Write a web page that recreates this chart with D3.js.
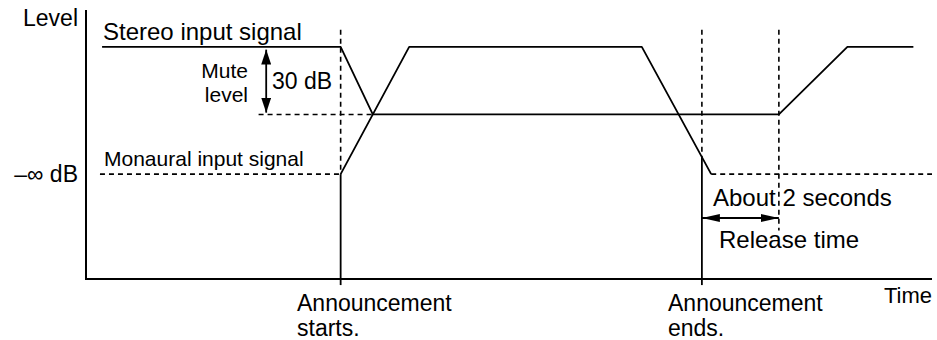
<!DOCTYPE html>
<html><head><meta charset="utf-8">
<script src="https://cdn.jsdelivr.net/npm/d3@7"></script>
<style>
html,body{margin:0;padding:0;background:#fff;}
svg text{font-family:"Liberation Sans",Arial,Helvetica,sans-serif;fill:#000;}
</style></head>
<body><svg id="c" width="937" height="340"></svg>
<script>
// ---- data (time in arbitrary units 0..100, level in pseudo dB) ----
const stereoLevel = 0, muteLevel = -30, floorLevel = -56.5;
const stereoTimes = [1.9, 30.1, 33.9, 81.9, 90.0, 97.8];
const stereoLevels = [stereoLevel, stereoLevel, muteLevel, muteLevel, stereoLevel, stereoLevel];
const monoTimes = [30.1, 38.2, 65.7, 73.9];
const monoLevels = [floorLevel, stereoLevel, stereoLevel, floorLevel];
const monoDashBefore = [[1.65, floorLevel], [30.1, floorLevel]];
const monoDashAfter = [[73.9, floorLevel], [100, floorLevel]];
const muteDash = [[20.4, muteLevel], [33.9, muteLevel]];
const announceStart = 30.1, announceEnd = 72.8, releaseEnd = 81.9;
const yLabels = ["Level", "\u2013\u221e dB"];

const svg = d3.select("#c");
const x = d3.scaleLinear().domain([0, 100]).range([86, 932]);
const y = d3.scaleLinear().domain([-103.1, 16.4]).range([279, 10]);
const line = d3.line().x(d => x(d[0])).y(d => y(d[1]));

function txt(lines, px, py, size, anchor, lh) {
  const t = svg.append("text").attr("x", px).attr("y", py)
    .attr("font-size", size).attr("text-anchor", anchor || "start");
  [].concat(lines).forEach((s, i) => {
    t.append("tspan").attr("x", px).attr("dy", i === 0 ? 0 : lh).text(s);
  });
}

// markers
const defs = svg.append("defs");
defs.append("marker").attr("id", "hA").attr("markerUnits", "userSpaceOnUse")
  .attr("viewBox", "0 0 18 10").attr("refX", 18).attr("refY", 5)
  .attr("markerWidth", 18).attr("markerHeight", 10).attr("orient", "auto-start-reverse")
  .append("path").attr("d", "M0,1 L18,5 L0,9 Z").attr("fill", "#000");
defs.append("marker").attr("id", "vA").attr("markerUnits", "userSpaceOnUse")
  .attr("viewBox", "0 0 15 10").attr("refX", 15).attr("refY", 5)
  .attr("markerWidth", 15).attr("markerHeight", 10).attr("orient", "auto-start-reverse")
  .append("path").attr("d", "M0,0 L15,5 L0,10 Z").attr("fill", "#000");

// axes
svg.append("path").attr("d", `M${x(0)},${y(16.4)} V${y(-103.1)} H${x(100)}`)
  .attr("fill", "none").attr("stroke", "#000").attr("stroke-width", 2);

const dash = "5,4";
const vTop = 7.6;
// announcement start: dashed to floor, solid below
svg.append("path").attr("d", line([[announceStart, vTop], [announceStart, floorLevel]]))
  .attr("stroke", "#000").attr("stroke-width", 1.6).attr("stroke-dasharray", dash).attr("fill", "none");
svg.append("path").attr("d", line([[announceStart, floorLevel], [announceStart, -105.8]]))
  .attr("stroke", "#000").attr("stroke-width", 1.8).attr("fill", "none");
// announcement end: dashed down to crossing with falling line, solid below
const crossLevel = stereoLevel + (floorLevel - stereoLevel) * (announceEnd - monoTimes[2]) / (monoTimes[3] - monoTimes[2]);
svg.append("path").attr("d", line([[announceEnd, vTop], [announceEnd, crossLevel]]))
  .attr("stroke", "#000").attr("stroke-width", 1.6).attr("stroke-dasharray", dash).attr("fill", "none");
svg.append("path").attr("d", line([[announceEnd, crossLevel], [announceEnd, -105.8]]))
  .attr("stroke", "#000").attr("stroke-width", 1.8).attr("fill", "none");
// release end: dashed
svg.append("path").attr("d", line([[releaseEnd, vTop], [releaseEnd, -81.5]]))
  .attr("stroke", "#000").attr("stroke-width", 1.6).attr("stroke-dasharray", dash).attr("fill", "none");

// dashed level lines
[monoDashBefore, monoDashAfter, muteDash].forEach(d => {
  svg.append("path").attr("d", line(d)).attr("stroke", "#000").attr("stroke-width", 1.6)
    .attr("stroke-dasharray", dash).attr("fill", "none");
});

// signal lines
svg.append("path").attr("d", line(d3.zip(stereoTimes, stereoLevels)))
  .attr("stroke", "#000").attr("stroke-width", 1.8).attr("fill", "none").attr("stroke-linejoin", "round");
svg.append("path").attr("d", line(d3.zip(monoTimes, monoLevels)))
  .attr("stroke", "#000").attr("stroke-width", 1.8).attr("fill", "none").attr("stroke-linejoin", "round");

// mute arrow
svg.append("path").attr("d", line([[21.3, stereoLevel - 1.2], [21.3, muteLevel + 0.8]]))
  .attr("stroke", "#000").attr("stroke-width", 1.8)
  .attr("marker-start", "url(#vA)").attr("marker-end", "url(#vA)");
// release arrow
svg.append("path").attr("d", line([[announceEnd, -76], [releaseEnd, -76]]))
  .attr("stroke", "#000").attr("stroke-width", 1.8)
  .attr("marker-start", "url(#hA)").attr("marker-end", "url(#hA)");

// texts
txt(yLabels[0], 78, 26, 23, "end");
txt(yLabels[1], 78, 182, 23, "end");
txt("Stereo input signal", 103, 40, 24);
txt("Monaural input signal", 104, 166, 21);
txt(["Mute", "level"], 248, 78, 21, "end", 24);
txt("30 dB", 272, 89, 23);
txt("About 2 seconds", 713, 206, 24);
txt("Release time", 719, 248, 24);
txt(["Announcement", "starts."], 297, 311, 23, "start", 25);
txt(["Announcement", "ends."], 668, 311, 23, "start", 25);
txt("Time", 932, 303, 22, "end");
</script></body></html>
